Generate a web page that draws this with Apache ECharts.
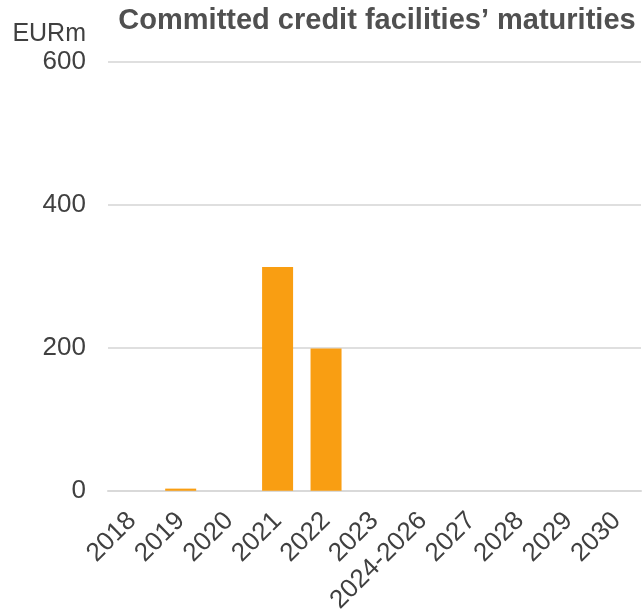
<!DOCTYPE html>
<html>
<head>
<meta charset="utf-8">
<script src="https://cdn.jsdelivr.net/npm/echarts@6/dist/echarts.min.js"></script>
<style>html,body{margin:0;padding:0;background:#fff;}#c{width:644px;height:616px;}</style>
</head>
<body>
<div id="c"></div>
<script>
var categories = ['2018','2019','2020','2021','2022','2023','2024-2026','2027','2028','2029','2030'];
var values = [0, 3, 0, 313, 199, 0, 0, 0, 0, 0, 0];
var yTicks = { min: 0, max: 600, interval: 200 };
var titleText = 'Committed credit facilities\u2019 maturities';
var unitText = 'EURm';

var chart = echarts.init(document.getElementById('c'), null, {renderer: 'canvas'});
var font = 'Liberation Sans, Arial, sans-serif';
chart.setOption({
  animation: false,
  backgroundColor: '#fff',
  grid: { left: 108, right: 3, top: 62, bottom: 124.5, containLabel: false },
  graphic: [
    { type: 'text', x: 377, y: 6, style: { text: titleText, align: 'center', verticalAlign: 'top', fill: '#505050', font: 'bold 29px ' + font } },
    { type: 'text', x: 86, y: 34, style: { text: unitText, align: 'right', verticalAlign: 'middle', fill: '#404040', font: '25px ' + font } }
  ],
  xAxis: {
    type: 'category',
    data: categories,
    axisTick: { show: false },
    axisLine: { show: true, lineStyle: { color: '#d9d9d9', width: 2 } },
    axisLabel: { rotate: 45, interval: 0, margin: 26, color: '#404040', fontSize: 26, fontFamily: font }
  },
  yAxis: {
    type: 'value',
    min: yTicks.min, max: yTicks.max, interval: yTicks.interval,
    axisLine: { show: false },
    axisTick: { show: false },
    splitLine: { lineStyle: { color: '#d4d4d4', width: 1.5 } },
    axisLabel: { margin: 22, color: '#404040', fontSize: 26, fontFamily: font }
  },
  series: [{
    type: 'bar',
    data: values,
    barWidth: 31,
    itemStyle: { color: '#F99E12' }
  }]
});
</script>
</body>
</html>
